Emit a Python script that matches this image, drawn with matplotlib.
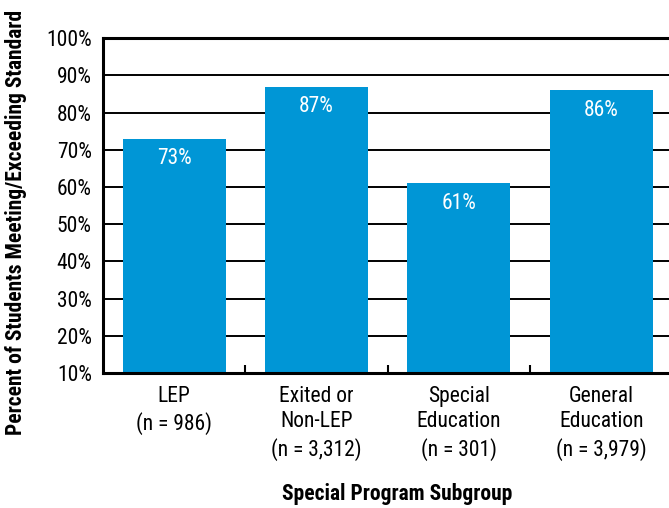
import matplotlib
matplotlib.use("Agg")
import matplotlib.pyplot as plt
from matplotlib.ticker import FixedLocator, NullFormatter

categories = ["LEP\n(n = 986)", "Exited or\nNon-LEP\n(n = 3,312)",
              "Special\nEducation\n(n = 301)", "General\nEducation\n(n = 3,979)"]
values = [73, 87, 61, 86]
y_ticks = [10, 20, 30, 40, 50, 60, 70, 80, 90, 100]

plt.rcParams['font.family'] = ['Roboto Condensed', 'DejaVu Sans']

bar_color = "#0096D6"

fig = plt.figure(figsize=(6.69, 5.08), dpi=100)
ax = fig.add_axes([0.154, 0.2657, 0.851, 0.659])

x = list(range(len(categories)))
ax.bar(x, values, width=0.725, color=bar_color, zorder=3)

for xi, v in zip(x, values):
    ax.annotate(f"{v}%", (xi, v), xytext=(0, -14.5), textcoords="offset points",
                ha="center", va="center", color="white", fontsize=15.5, zorder=4)

ax.set_xlim(-0.5, 3.5)
ax.set_ylim(10, 100)
ax.set_yticks(y_ticks)
ax.set_yticklabels([f"{t}%" for t in y_ticks], fontsize=15.5)
ax.tick_params(axis="y", length=0, pad=8)
ax.yaxis.grid(True, color="black", linewidth=1.4, zorder=1)

ax.set_xticks(x)
ax.set_xticklabels(categories, fontsize=15.5, linespacing=1.3)
ax.tick_params(axis="x", which="major", length=0, pad=9)
ax.xaxis.set_minor_locator(FixedLocator([0.5, 1.5, 2.5]))
ax.xaxis.set_minor_formatter(NullFormatter())
ax.tick_params(axis="x", which="minor", direction="in", length=6, width=1.5)

for side in ["left", "bottom", "top"]:
    ax.spines[side].set_linewidth(2.2)
    ax.spines[side].set_zorder(5)
ax.spines["right"].set_visible(False)

ax.set_ylabel("Percent of Students Meeting/Exceeding Standard", fontsize=15.5,
              fontweight="bold")
ax.yaxis.set_label_coords(-0.133, 0.45)
ax.set_xlabel("Special Program Subgroup", fontsize=15.5, fontweight="bold")
ax.xaxis.set_label_coords(0.517, -0.33)

fig.savefig("out.png", dpi=100)
